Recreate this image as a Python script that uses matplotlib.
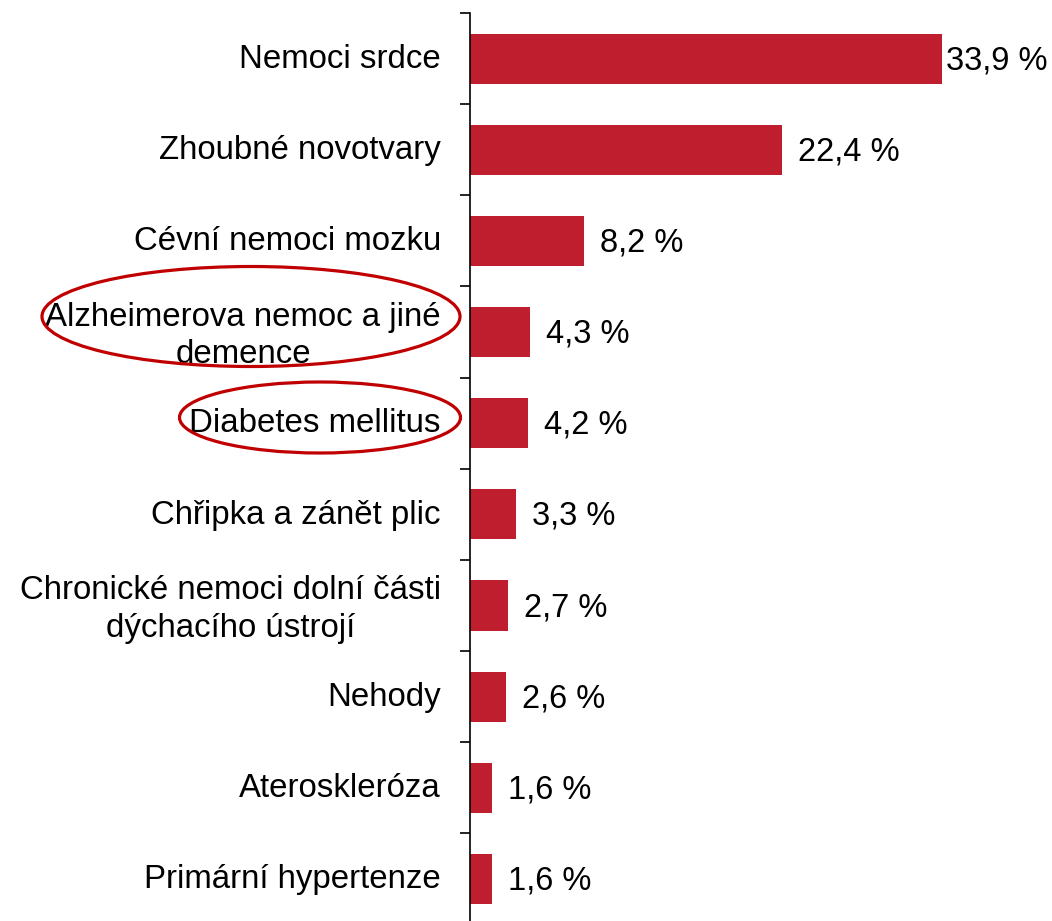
import matplotlib.pyplot as plt
import matplotlib.transforms as mtransforms
from matplotlib.patches import Ellipse

plt.rcParams['font.family'] = ['Liberation Sans', 'DejaVu Sans']

categories = [
    "Nemoci srdce",
    "Zhoubné novotvary",
    "Cévní nemoci mozku",
    "Alzheimerova nemoc a jiné\ndemence",
    "Diabetes mellitus",
    "Chřipka a zánět plic",
    "Chronické nemoci dolní části\ndýchacího ústrojí",
    "Nehody",
    "Ateroskleróza",
    "Primární hypertenze",
]
values = [33.9, 22.4, 8.2, 4.3, 4.2, 3.3, 2.7, 2.6, 1.6, 1.6]
value_labels = ["33,9 %", "22,4 %", "8,2 %", "4,3 %", "4,2 %",
                "3,3 %", "2,7 %", "2,6 %", "1,6 %", "1,6 %"]

W, H = 1052, 921
fig = plt.figure(figsize=(W / 100, H / 100), dpi=100)
# axis from y=13 px down to just past the bottom edge
ax = fig.add_axes([470 / W, -3.5 / H, 557 / W, (924.5 - 13) / H])

pos = list(range(len(categories)))
ax.barh(pos, values, height=0.55, color='#BE1E2D')
ax.set_ylim(len(categories) - 0.5, -0.5)
ax.set_xlim(0, 40)

ax.set_yticks(pos)
ax.set_yticklabels(categories, fontsize=23.8, multialignment='center',
                   linespacing=1.28)
ax.set_yticks([p - 0.5 for p in pos] + [len(categories) - 0.5], minor=True)
ax.tick_params(axis='y', which='major', length=0, pad=21)
ax.tick_params(axis='y', which='minor', length=7.2, width=1.2, direction='out')
ax.set_xticks([])
for s in ['top', 'right', 'bottom']:
    ax.spines[s].set_visible(False)
ax.spines['left'].set_linewidth(1.2)

# nudge category labels up a little
shift = mtransforms.ScaledTranslation(0, 2 / 72, fig.dpi_scale_trans)
for lbl in ax.get_yticklabels():
    lbl.set_transform(lbl.get_transform() + shift)

for i, (v, lab) in enumerate(zip(values, value_labels)):
    off = 3 if i == 0 else 11.5
    ax.annotate(lab, (v, i), xytext=(off, -1.5), textcoords='offset points',
                va='center', ha='left', fontsize=23.5)

# highlight ellipses around two labels (figure pixel coordinates)
for cx, cy, w, h in [(251, 316.5, 418, 100), (320, 417.5, 281, 71)]:
    e = Ellipse((cx / W, 1 - cy / H), w / W, h / H, transform=fig.transFigure,
                fill=False, edgecolor='#C00000', linewidth=2.3, clip_on=False)
    fig.add_artist(e)

fig.savefig('out.png', dpi=100)
